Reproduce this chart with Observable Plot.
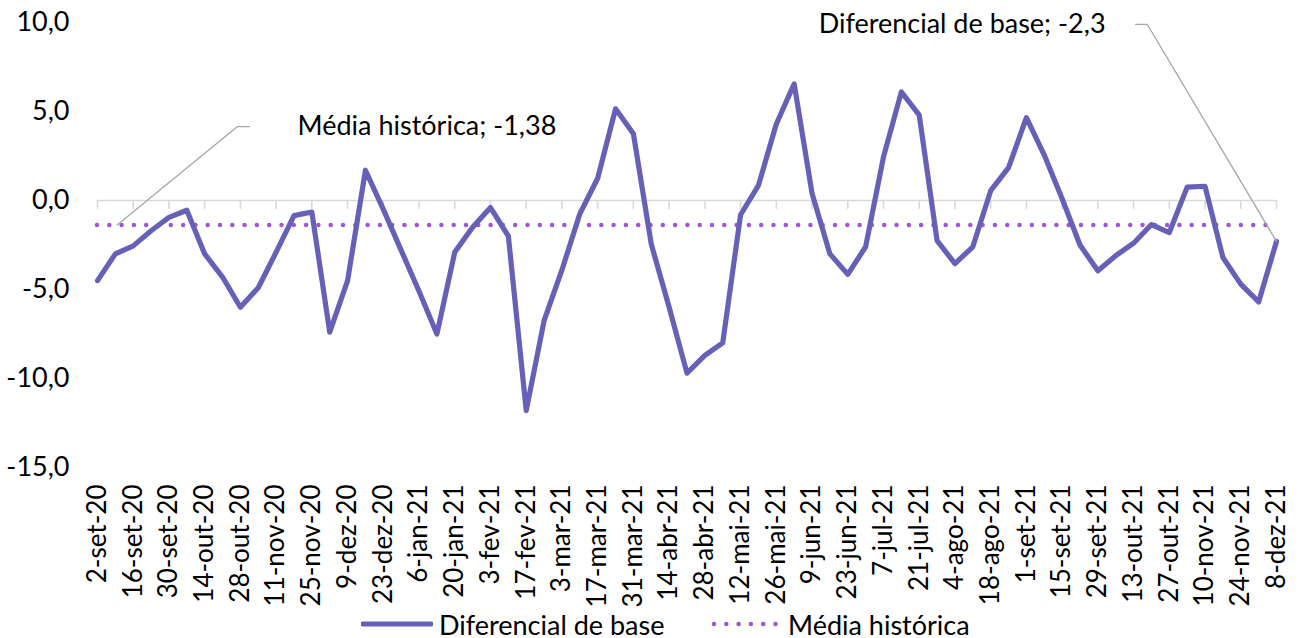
<!DOCTYPE html>
<html>
<head>
<meta charset="utf-8">
<script src="https://cdn.jsdelivr.net/npm/d3@7"></script>
<script src="https://cdn.jsdelivr.net/npm/@observablehq/plot@0.6"></script>
<style>
  html, body { margin: 0; padding: 0; background: #fff; }
  body { width: 1303px; height: 638px; overflow: hidden; font-family: Lato, "Open Sans", sans-serif; }
  #legend { position: relative; height: 38px; font-size: 27px; color: #000; }
  .item { position: absolute; top: 5px; height: 38px; display: flex; align-items: center; }
</style>
</head>
<body>
<div id="chart"></div>
<div id="legend"></div>
<script>
// Weekly categories (Wednesday dates)
const weeks = [
  "2-set-20","9-set-20","16-set-20","23-set-20","30-set-20","7-out-20","14-out-20","21-out-20","28-out-20",
  "4-nov-20","11-nov-20","18-nov-20","25-nov-20","2-dez-20","9-dez-20","16-dez-20","23-dez-20","30-dez-20",
  "6-jan-21","13-jan-21","20-jan-21","27-jan-21","3-fev-21","10-fev-21","17-fev-21","24-fev-21",
  "3-mar-21","10-mar-21","17-mar-21","24-mar-21","31-mar-21","7-abr-21","14-abr-21","21-abr-21","28-abr-21",
  "5-mai-21","12-mai-21","19-mai-21","26-mai-21","2-jun-21","9-jun-21","16-jun-21","23-jun-21","30-jun-21",
  "7-jul-21","14-jul-21","21-jul-21","28-jul-21","4-ago-21","11-ago-21","18-ago-21","25-ago-21",
  "1-set-21","8-set-21","15-set-21","22-set-21","29-set-21","6-out-21","13-out-21","20-out-21","27-out-21",
  "3-nov-21","10-nov-21","17-nov-21","24-nov-21","1-dez-21","8-dez-21"
];

// Diferencial de base (series values, one per week)
const diferencial = [
  -4.5, -3.0, -2.55, -1.7, -0.95, -0.55, -3.0, -4.3, -6.0, -4.9, -2.9, -0.85, -0.65, -7.4, -4.5, 1.7,
  -0.5, -2.8, -5.1, -7.5, -2.9, -1.5, -0.4, -2.0, -11.8, -6.75, -3.9, -0.75, 1.25, 5.15, 3.75,
  -2.45, -6.0, -9.7, -8.7, -8.0, -0.8, 0.85, 4.3, 6.55, 0.4, -3.0, -4.15, -2.6, 2.45, 6.1, 4.8,
  -2.25, -3.55, -2.6, 0.55, 1.85, 4.65, 2.55, 0.1, -2.5, -3.95, -3.1, -2.4, -1.35, -1.8, 0.75, 0.8,
  -3.2, -4.7, -5.7, -2.3
];

// Média histórica
const mediaHistorica = -1.38;

// Axis tick values
const yTicks = [-15, -10, -5, 0, 5, 10];
const xTickIdx = weeks.map((_, i) => i).filter(i => i % 2 === 0);

const seriesName = "Diferencial de base";
const meanName = "Média histórica";

const lineColor = "#6760B8";
const meanColor = "#9E55D6";
const gridGray = "#d9d9d9";
const leaderGray = "#a6a6a6";

const data = diferencial.map((v, i) => ({i, v}));
const last = data.length - 1;
const fmt1 = d => d.toFixed(1).replace(".", ",");
const fmt2 = d => d.toFixed(2).replace(".", ",");

const chart = Plot.plot({
  width: 1303,
  height: 600,
  marginLeft: 97,
  marginRight: 27,
  marginTop: 22,
  marginBottom: 133,
  style: {fontFamily: "Lato, 'Open Sans', sans-serif", fontSize: "27px", color: "#000", background: "#fff", overflow: "visible"},
  x: {
    type: "linear",
    domain: [0, last],
    ticks: xTickIdx,
    tickFormat: i => weeks[i],
    tickRotate: -90,
    tickSize: 0,
    tickPadding: 17,
    label: null
  },
  y: {
    domain: [-15, 10],
    ticks: yTicks,
    tickFormat: fmt1,
    tickSize: 0,
    tickPadding: 28,
    label: null
  },
  marks: [
    Plot.ruleY([0], {x1: 0, x2: last, stroke: gridGray, strokeWidth: 1.6}),
    Plot.ruleX(xTickIdx, {y1: 0, y2: -0.5, stroke: gridGray, strokeWidth: 1.6}),
    Plot.ruleY([mediaHistorica], {x1: 0, x2: last, stroke: meanColor, strokeWidth: 4.5,
      strokeDasharray: "0 12.3", strokeLinecap: "round"}),
    Plot.line(data, {x: "i", y: "v", stroke: lineColor, strokeWidth: 5.2, strokeLinejoin: "round", strokeLinecap: "round"}),
    // leader line for the mean label
    Plot.line([[1.1, mediaHistorica], [7.82, 4.15], [8.5, 4.15]], {x: d => d[0], y: d => d[1], stroke: leaderGray, strokeWidth: 1.3}),
    Plot.text([`${meanName}; ${fmt2(mediaHistorica)}`], {x: 11.2, y: 4.15, textAnchor: "start", fill: "#000", fontSize: 27}),
    // leader line for the last value label
    Plot.line([[last, diferencial[last]], [58.77, 9.89], [58.12, 9.89]], {x: d => d[0], y: d => d[1], stroke: leaderGray, strokeWidth: 1.3}),
    Plot.text([`${seriesName}; ${fmt1(diferencial[last])}`], {x: 40.37, y: 9.89, textAnchor: "start", fill: "#000", fontSize: 27})
  ]
});
document.getElementById("chart").appendChild(chart);
// slightly smaller rotated date labels
d3.select(chart).selectAll('g[aria-label^="x-axis"] text').style("font-size", "26px");

// Legend
const legend = document.getElementById("legend");
legend.innerHTML = `
  <div class="item" style="left:361px">
    <svg width="72" height="10"><line x1="2" y1="5" x2="70" y2="5" stroke="${lineColor}" stroke-width="5" stroke-linecap="round"/></svg>
    <span style="margin-left:6px">${seriesName}</span>
  </div>
  <div class="item" style="left:712px">
    <svg width="68" height="10"><line x1="2" y1="5" x2="66" y2="5" stroke="${meanColor}" stroke-width="4.5" stroke-dasharray="0 12.3" stroke-linecap="round"/></svg>
    <span style="margin-left:8px">${meanName}</span>
  </div>`;
</script>
</body>
</html>
